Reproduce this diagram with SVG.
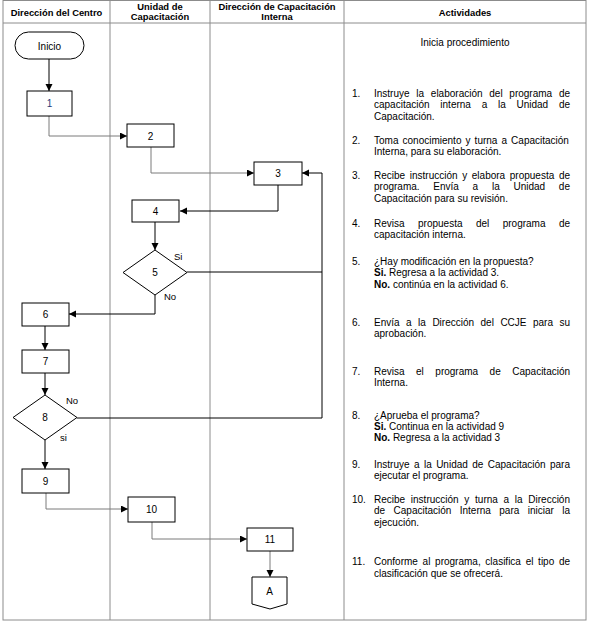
<svg xmlns="http://www.w3.org/2000/svg" width="590" height="626" viewBox="0 0 590 626">
<style>
.grid{stroke:#8c8c8c;stroke-width:1;fill:none}
.hd{font-family:"Liberation Sans",Arial,sans-serif;font-size:9.4px;font-weight:bold;fill:#000;text-anchor:middle}
.box{fill:#fff;stroke:#000;stroke-width:1}
.bt{font-family:"Liberation Sans",Arial,sans-serif;font-size:10px;fill:#000;text-anchor:middle}
.lbl{font-family:"Liberation Sans",Arial,sans-serif;font-size:9.5px;fill:#000}
.act{font-family:"Liberation Sans",Arial,sans-serif;font-size:10px;fill:#000}
.k{stroke:#000;stroke-width:1;fill:none}
.g{stroke:#7a7a7a;stroke-width:1;fill:none}
</style>
<defs>
<marker id="ah" markerUnits="userSpaceOnUse" markerWidth="8" markerHeight="8" refX="7" refY="3.5" orient="auto">
<path d="M0,0 L7,3.5 L0,7 z" fill="#000"/>
</marker>
</defs>
<rect width="590" height="626" fill="#fff"/>
<g id="table">
<rect class="grid" x="3" y="0.5" width="583" height="619.5"/>
<line class="grid" x1="3" y1="23" x2="586" y2="23"/>
<line class="grid" x1="110" y1="0.5" x2="110" y2="620"/>
<line class="grid" x1="210" y1="0.5" x2="210" y2="620"/>
<line class="grid" x1="344" y1="0.5" x2="344" y2="620"/>
<text class="hd" x="56.5" y="15.5">Dirección del Centro</text>
<text class="hd" x="160" y="9.5">Unidad de</text>
<text class="hd" x="160" y="20">Capacitación</text>
<text class="hd" x="277" y="9.5">Dirección de Capacitación</text>
<text class="hd" x="277" y="20">Interna</text>
<text class="hd" x="465" y="15.5">Actividades</text>
</g>
<g id="connectors">
<path class="k" d="M49,59 V91" marker-end="url(#ah)"/>
<path class="g" d="M49,116 V136 H127" marker-end="url(#ah)"/>
<path class="g" d="M151,147 V173 H254" marker-end="url(#ah)"/>
<path class="k" d="M278,185 V211 H180" marker-end="url(#ah)"/>
<path class="k" d="M155,222 V250" marker-end="url(#ah)"/>
<path class="k" d="M187,272 H322"/>
<path class="k" d="M77,418 H322 V173 H302" stroke-width="1.2" marker-end="url(#ah)"/>
<path class="k" d="M155,295 V314 H69" marker-end="url(#ah)"/>
<path class="k" d="M45,326 V350" marker-end="url(#ah)"/>
<path class="k" d="M45,373 V395" marker-end="url(#ah)"/>
<path class="k" d="M45,440 V469" marker-end="url(#ah)"/>
<path class="g" d="M46,493 V509 H128" marker-end="url(#ah)"/>
<path class="g" d="M152,522 V539 H247" marker-end="url(#ah)"/>
<path class="g" d="M270,551 V577" marker-end="url(#ah)"/>
</g>
<g id="inicio">
<rect class="box" x="15" y="32" width="69" height="27" rx="13.5"/>
<text class="bt" x="49.5" y="49.5">Inicio</text>
</g>
<g id="n1"><rect class="box" x="27" y="91" width="45" height="25"/><text class="bt" x="49.5" y="107" fill="#1f3a7a" style="fill:#1f3a7a">1</text></g>
<g id="n2"><rect class="box" x="127" y="124" width="47" height="23"/><text class="bt" x="150.5" y="139.5">2</text></g>
<g id="n3"><rect class="box" x="254" y="162" width="48" height="23"/><text class="bt" x="278" y="177">3</text></g>
<g id="n4"><rect class="box" x="132" y="200" width="47" height="22"/><text class="bt" x="155.5" y="214.5">4</text></g>
<g id="n5"><polygon class="box" points="155,250 187,272.5 155,295 123,272.5"/><text class="bt" x="155" y="276">5</text>
<text class="lbl" x="174" y="260">Si</text><text class="lbl" x="164" y="300">No</text></g>
<g id="n6"><rect class="box" x="22" y="303" width="47" height="23"/><text class="bt" x="45.5" y="318">6</text></g>
<g id="n7"><rect class="box" x="22" y="350" width="47" height="23"/><text class="bt" x="45.5" y="365">7</text></g>
<g id="n8"><polygon class="box" points="45,395 77,417.5 45,440 13,417.5"/><text class="bt" x="45" y="421">8</text>
<text class="lbl" x="66" y="404">No</text><text class="lbl" x="60" y="441">si</text></g>
<g id="n9"><rect class="box" x="22" y="469" width="47" height="24"/><text class="bt" x="45.5" y="484.5">9</text></g>
<g id="n10"><rect class="box" x="128" y="497" width="47" height="25"/><text class="bt" x="151.5" y="513">10</text></g>
<g id="n11"><rect class="box" x="247" y="528" width="46" height="23"/><text class="bt" x="270" y="543">11</text></g>
<g id="nA"><polygon class="box" points="252,577 287,577 287,604 270,609 252,604"/><text class="bt" x="269.5" y="594.5">A</text></g>
<g id="activities" class="act">
<text x="465" y="46" text-anchor="middle">Inicia procedimiento</text>
<text x="352" y="97">1.</text>
<text x="374" y="97" word-spacing="3.96">Instruye la elaboración del programa de</text>
<text x="374" y="108.4" word-spacing="7.96">capacitación interna a la Unidad de</text>
<text x="374" y="119.8">Capacitación.</text>
<text x="352" y="143.5">2.</text>
<text x="374" y="143.5" word-spacing="1.3">Toma conocimiento y turna a Capacitación</text>
<text x="374" y="155">Interna, para su elaboración.</text>
<text x="352" y="179">3.</text>
<text x="374" y="179" word-spacing="1.85">Recibe instrucción y elabora propuesta de</text>
<text x="374" y="190.4" word-spacing="10.96">programa. Envía a la Unidad de</text>
<text x="374" y="201.8">Capacitación para su revisión.</text>
<text x="352" y="227">4.</text>
<text x="374" y="227" word-spacing="10.65">Revisa propuesta del programa de</text>
<text x="374" y="238.4">capacitación interna.</text>
<text x="352" y="265">5.</text>
<text x="374" y="265">¿Hay modificación en la propuesta?</text>
<text x="374" y="276.4"><tspan font-weight="bold">Si.</tspan> Regresa a la actividad 3.</text>
<text x="374" y="287.8"><tspan font-weight="bold">No.</tspan> continúa en la actividad 6.</text>
<text x="352" y="326">6.</text>
<text x="374" y="326" word-spacing="3.71">Envía a la Dirección del CCJE para su</text>
<text x="374" y="337.4">aprobación.</text>
<text x="352" y="374.5">7.</text>
<text x="374" y="374.5" word-spacing="8.71">Revisa el programa de Capacitación</text>
<text x="374" y="386">Interna.</text>
<text x="352" y="418.5">8.</text>
<text x="374" y="418.5">¿Aprueba el programa?</text>
<text x="374" y="430"><tspan font-weight="bold">Si.</tspan> Continua en la actividad 9</text>
<text x="374" y="441.4"><tspan font-weight="bold">No.</tspan> Regresa a la actividad 3</text>
<text x="352" y="468">9.</text>
<text x="374" y="468" word-spacing="1.63">Instruye a la Unidad de Capacitación para</text>
<text x="374" y="479.4">ejecutar el programa.</text>
<text x="352" y="503">10.</text>
<text x="374" y="503" word-spacing="2.93">Recibe instrucción y turna a la Dirección</text>
<text x="374" y="514.4" word-spacing="5.63">de Capacitación Interna para iniciar la</text>
<text x="374" y="525.8">ejecución.</text>
<text x="352" y="565">11.</text>
<text x="374" y="565" word-spacing="1.92">Conforme al programa, clasifica el tipo de</text>
<text x="374" y="576.5">clasificación que se ofrecerá.</text>
</g>
</svg>
